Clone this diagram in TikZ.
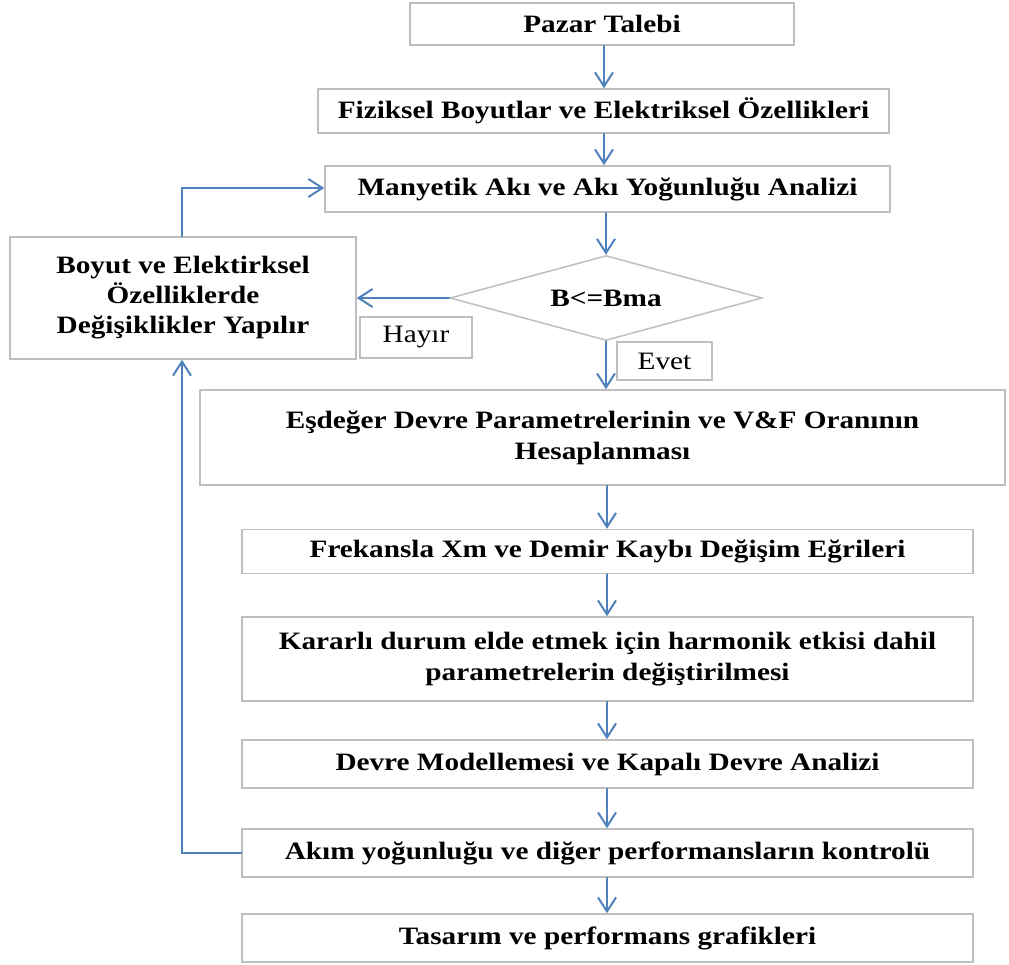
\documentclass[tikz,border=0pt]{standalone}
\usepackage{fontspec}
\setmainfont{Liberation Serif}[FakeStretch=1.17]
\usetikzlibrary{shapes.geometric,arrows.meta}
\definecolor{flowblue}{RGB}{79,129,189}
\definecolor{edgegray}{RGB}{191,191,191}

\begin{document}
\begin{tikzpicture}[x=1pt,y=-1pt,
  box/.style={draw=edgegray,line width=1.5pt,fill=white,inner sep=0pt,
    align=center,font=\fontsize{25}{31}\selectfont\bfseries},
  tag/.style={draw=edgegray,line width=1.5pt,fill=white,inner sep=0pt,
    font=\fontsize{25}{30}\selectfont},
  decision/.style={diamond,draw=edgegray,line width=1.5pt,fill=white,inner sep=0pt,
    aspect=3.67,font=\fontsize{25}{30}\selectfont\bfseries},
  arr/.style={draw=flowblue,line width=2pt,line cap=round,
    -{Straight Barb[length=14pt,width=18pt]}},
  link/.style={draw=flowblue,line width=2pt}
]
\useasboundingbox (0,0) rectangle (1009,964);

% main column
\node[box,minimum width=384pt,minimum height=42pt] (pazar) at (602,24) {Pazar Talebi};
\node[box,minimum width=571pt,minimum height=44pt] (fiz) at (603.5,111) {Fiziksel Boyutlar ve Elektriksel Özellikleri};
\node[box,minimum width=565pt,minimum height=46pt] (many) at (607.5,189) {Manyetik Akı ve Akı Yoğunluğu Analizi};
\node[decision,minimum width=312pt,minimum height=85pt] (dec) at (606,298) {B<=Bma};
\node[box,minimum width=805pt,minimum height=95pt] (esd) at (602.5,437.5) {Eşdeğer Devre Parametrelerinin ve V\&F Oranının\\Hesaplanması};
\node[box,minimum width=731pt,minimum height=44pt] (frek) at (607.5,551.5) {Frekansla Xm ve Demir Kaybı Değişim Eğrileri};
\node[box,minimum width=731pt,minimum height=84pt] (karar) at (607.5,659) {Kararlı durum elde etmek için harmonik etkisi dahil\\parametrelerin değiştirilmesi};
\node[box,minimum width=731pt,minimum height=48pt] (devre) at (607.5,764) {Devre Modellemesi ve Kapalı Devre Analizi};
\node[box,minimum width=731pt,minimum height=48pt] (akim) at (607.5,853) {Akım yoğunluğu ve diğer performansların kontrolü};
\node[box,minimum width=731pt,minimum height=48pt] (tasarim) at (607.5,938) {Tasarım ve performans grafikleri};

% correction box and branch labels
\node[box,minimum width=346pt,minimum height=122pt,font=\fontsize{25}{30}\selectfont\bfseries] (boyut) at (183,298) {Boyut ve Elektirksel\\Özelliklerde\\Değişiklikler Yapılır};
\node[tag,minimum width=112pt,minimum height=41pt] (hayir) at (416,337.5) {Hayır};
\node[tag,minimum width=95pt,minimum height=38pt] (evet) at (664.5,361) {Evet};

% column guides for the vertical arrows
\coordinate (colA) at (604,0);
\coordinate (colB) at (607,0);
\coordinate (loopTop) at (182,188);
\coordinate (loopBot) at (182,853);

% downward flow
\draw[arr] (pazar.south -| colA) -- (fiz.north -| colA);
\draw[arr] (fiz.south -| colA) -- (many.north -| colA);
\draw[arr] (many.south -| dec) -- (dec.north);
\draw[arr] (dec.south) -- (esd.north -| dec);
\draw[arr] (esd.south -| colB) -- (frek.north -| colB);
\draw[arr] (frek.south -| colB) -- (karar.north -| colB);
\draw[arr] (karar.south -| colB) -- (devre.north -| colB);
\draw[arr] (devre.south -| colB) -- (akim.north -| colB);
\draw[arr] (akim.south -| colB) -- (tasarim.north -| colB);

% "Hayır" branch and feedback loops
\draw[arr] (dec.west) -- (boyut.east |- dec.west);
\draw[arr] (boyut.north -| loopTop) -- (loopTop) -- (many.west |- loopTop);
\draw[arr] (akim.west |- loopBot) -- (loopBot) -- (boyut.south -| loopBot);
\end{tikzpicture}
\end{document}
